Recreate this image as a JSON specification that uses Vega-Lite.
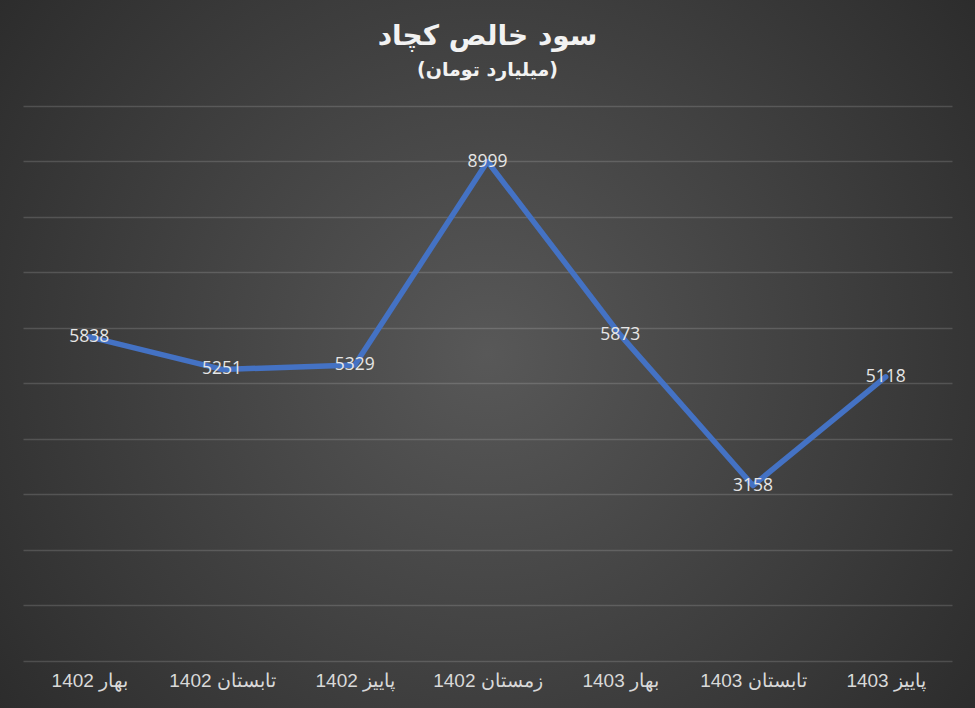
{
  "$schema": "https://vega.github.io/schema/vega-lite/v6.json",
  "autosize": {"type": "fit", "contains": "padding"},
  "width": 975,
  "height": 708,
  "padding": 0,
  "background": "#262626",
  "view": {
    "stroke": null,
    "fill": {
      "gradient": "radial",
      "x1": 0.5, "y1": 0.5, "r1": 0,
      "x2": 0.5, "y2": 0.5, "r2": 0.72,
      "stops": [
        {"offset": 0, "color": "#585858"},
        {"offset": 1, "color": "#252525"}
      ]
    }
  },
  "title": {
    "text": "سود خالص کچاد",
    "subtitle": "(میلیارد تومان)",
    "anchor": "middle",
    "offset": -80,
    "font": "DejaVu Sans",
    "fontSize": 28,
    "fontWeight": "bold",
    "color": "#f2f2f2",
    "subtitleFont": "DejaVu Sans",
    "subtitleFontSize": 19,
    "subtitleFontWeight": "bold",
    "subtitleColor": "#f2f2f2",
    "subtitlePadding": 10
  },
  "data": {
    "values": [
      {"period": "1402 بهار", "value": 5838},
      {"period": "1402 تابستان", "value": 5251},
      {"period": "1402 پاییز", "value": 5329},
      {"period": "1402 زمستان", "value": 8999},
      {"period": "1403 بهار", "value": 5873},
      {"period": "1403 تابستان", "value": 3158},
      {"period": "1403 پاییز", "value": 5118}
    ]
  },
  "encoding": {
    "x": {
      "field": "period",
      "type": "nominal",
      "sort": null,
      "scale": {"type": "point", "padding": 0.5, "range": [23, 952]},
      "axis": {
        "title": null,
        "domain": false,
        "ticks": false,
        "grid": false,
        "labelAngle": 0,
        "labelFont": "Liberation Sans",
        "labelFontSize": 19,
        "labelColor": "#d9d9d9",
        "labelPadding": 10,
        "offset": -47,
        "zindex": 1
      }
    },
    "y": {
      "field": "value",
      "type": "quantitative",
      "scale": {"domain": [-853, 11911], "nice": false, "zero": false},
      "axis": {
        "title": null,
        "labels": false,
        "ticks": false,
        "domain": false,
        "grid": true,
        "gridColor": "#ffffff",
        "gridOpacity": 0.15,
        "gridWidth": 1.3,
        "values": [0, 1000, 2000, 3000, 4000, 5000, 6000, 7000, 8000, 9000, 10000]
      }
    }
  },
  "layer": [
    {
      "mark": {"type": "line", "color": "#4472C4", "strokeWidth": 5.5, "strokeJoin": "round", "strokeCap": "round"}
    },
    {
      "mark": {"type": "text", "font": "Open Sans", "fontSize": 17.5, "color": "#e6e6e6", "align": "center", "baseline": "middle"},
      "encoding": {"text": {"field": "value", "type": "quantitative", "format": "d"}}
    }
  ]
}
